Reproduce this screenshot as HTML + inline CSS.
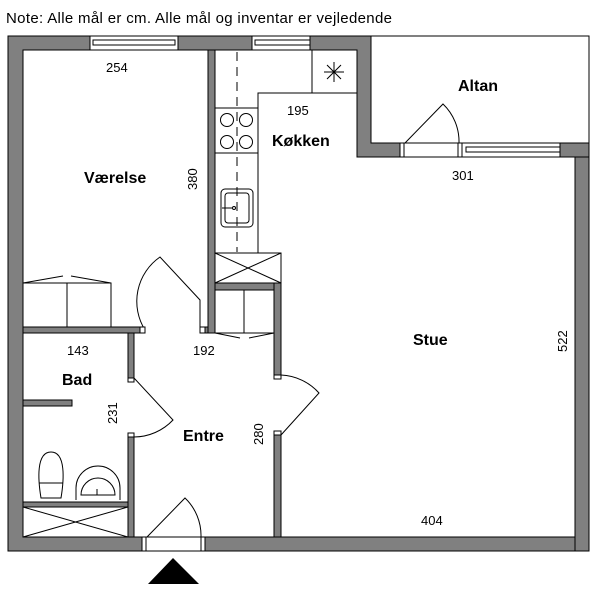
<!DOCTYPE html>
<html><head><meta charset="utf-8"><style>
html,body{margin:0;padding:0;background:#fff;}
svg{display:block;}
text{font-family:"Liberation Sans",sans-serif;fill:#000;}
.b{font-weight:bold;font-size:16px;}
.n{font-size:13px;}
</style></head><body>
<svg width="600" height="592" viewBox="0 0 600 592" xmlns="http://www.w3.org/2000/svg">
<text x="6" y="23" style="font-size:15px" textLength="386" lengthAdjust="spacing">Note: Alle mål er cm. Alle mål og inventar er vejledende</text>

<path d="M371 36 H589 V143" fill="none" stroke="#000" stroke-width="1"/>

<g fill="#808080" stroke="#000" stroke-width="1">
<path d="M8 36 H371 V143 H400 V157 H371 H357 V50 H23 V537 H142 V551 H8 Z"/>
<rect x="205" y="537" width="384" height="14"/>
<rect x="575" y="143" width="14" height="408"/>
<rect x="560" y="143" width="29" height="14"/>
<rect x="208" y="50" width="7" height="283"/>
<rect x="23" y="327" width="117" height="6"/>
<rect x="200" y="327" width="8" height="6"/>
<rect x="215" y="283" width="66" height="7"/>
<rect x="274" y="283" width="7" height="92"/>
<rect x="274" y="435" width="7" height="102"/>
<rect x="128" y="333" width="6" height="45"/>
<rect x="128" y="437" width="6" height="100"/>
<rect x="23" y="400" width="49" height="6"/>
<rect x="23" y="502" width="105" height="5"/>
</g>
<g fill="#fff" stroke="#000" stroke-width="1">
<rect x="90" y="36" width="88" height="14"/>
<rect x="93" y="40" width="82" height="5"/>
<rect x="252" y="36" width="58" height="14"/>
<rect x="255" y="40" width="55" height="5"/>
<rect x="462" y="143" width="98" height="14"/>
<rect x="466" y="147" width="94" height="5"/>
<rect x="400" y="143" width="62" height="14"/>
<rect x="142" y="537" width="63" height="14"/>
</g>
<g stroke="#000" stroke-width="1" fill="none">
<line x1="404" y1="143" x2="404" y2="157"/><line x1="458" y1="143" x2="458" y2="157"/>
<line x1="146" y1="537" x2="146" y2="551"/><line x1="201" y1="537" x2="201" y2="551"/>
<path d="M405 143 L443 104 A52 52 0 0 1 459 143"/>
<path d="M147 537 L185 498 A52 52 0 0 1 201 537"/>
<path d="M134 378 L173 420 A54 54 0 0 1 134 437"/>
<path d="M281 375 A54 54 0 0 1 319 393 L281 435"/>
<path d="M145 330 A54 54 0 0 1 160 257 L200 300 L200 327"/>
<rect x="140" y="327" width="5" height="6" fill="#fff"/>
<rect x="200" y="327" width="5" height="6" fill="#fff"/>
<path d="M215 50 V253 H258 V93 H357"/>
<line x1="237" y1="52" x2="237" y2="252" stroke-dasharray="9,6"/>
<rect x="215" y="108" width="43" height="45"/>
<circle cx="227" cy="120" r="6.5"/><circle cx="246" cy="120" r="6.5"/>
<circle cx="227" cy="142" r="6.5"/><circle cx="246" cy="142" r="6.5"/>
<rect x="221" y="189" width="32" height="38" rx="4"/>
<rect x="225" y="193" width="24" height="30" rx="3"/>
<circle cx="234" cy="208" r="1.5"/><line x1="222" y1="208" x2="232" y2="208"/>
<rect x="312" y="50" width="45" height="43"/>
<path d="M334 62 V82 M324 72 H344 M327 65 L341 79 M341 65 L327 79"/>
<rect x="215" y="253" width="66" height="30"/>
<path d="M215 253 L281 283 M281 253 L215 283"/>
<rect x="215" y="290" width="59" height="43"/>
<line x1="244" y1="290" x2="244" y2="333"/>
<path d="M215 333 L240 338 M249 338 L274 333"/>
<rect x="23" y="283" width="88" height="44"/>
<line x1="67" y1="283" x2="67" y2="327"/>
<path d="M23 283 L63 276 M71 276 L111 283"/>
<path d="M51 452 C36 452 38 480 41 498 H61 C64 480 66 452 51 452 Z"/>
<line x1="39" y1="483" x2="63" y2="483"/>
<path d="M76 500 V488 A22 22 0 0 1 120 488 V500"/>
<path d="M81 495 A17 17 0 1 1 115 495 Z"/>
<line x1="97" y1="489" x2="97" y2="495"/>
<rect x="23" y="507" width="105" height="30"/>
<path d="M23 507 L128 537 M128 507 L23 537"/>
<rect x="128" y="378" width="6" height="4" fill="#fff"/>
<rect x="128" y="433" width="6" height="4" fill="#fff"/>
<rect x="274" y="375" width="7" height="4" fill="#fff"/>
<rect x="274" y="431" width="7" height="4" fill="#fff"/>
</g>
<polygon points="148,584 199,584 173,558" fill="#000"/>

<text class="n" x="106" y="72">254</text>
<text class="b" x="84" y="183">Værelse</text>
<text class="n" transform="translate(197,190) rotate(-90)">380</text>
<text class="n" x="287" y="115">195</text>
<text class="b" x="272" y="146">Køkken</text>
<text class="b" x="458" y="91">Altan</text>
<text class="n" x="452" y="180">301</text>
<text class="b" x="413" y="345">Stue</text>
<text class="n" transform="translate(567,352) rotate(-90)">522</text>
<text class="n" x="67" y="355">143</text>
<text class="n" x="193" y="355">192</text>
<text class="b" x="62" y="385">Bad</text>
<text class="n" transform="translate(117,424) rotate(-90)">231</text>
<text class="b" x="183" y="441">Entre</text>
<text class="n" transform="translate(263,445) rotate(-90)">280</text>
<text class="n" x="421" y="525">404</text>
</svg>
</body></html>
